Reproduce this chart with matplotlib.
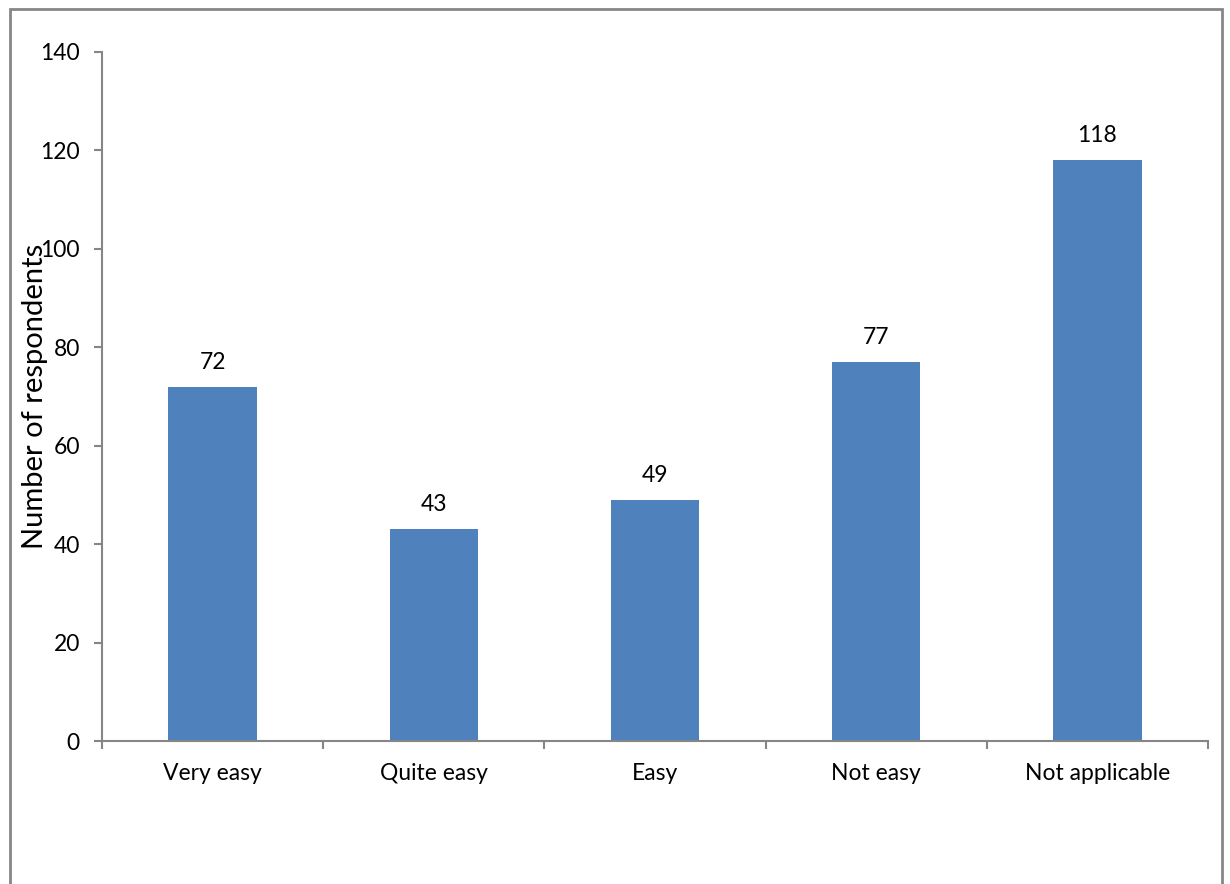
import matplotlib
matplotlib.use("Agg")
import matplotlib.pyplot as plt
from matplotlib.patches import Rectangle

categories = ["Very easy", "Quite easy", "Easy", "Not easy", "Not applicable"]
values = [72, 43, 49, 77, 118]
yticks = [0, 20, 40, 60, 80, 100, 120, 140]

plt.rcParams['font.family'] = ['Lato', 'DejaVu Sans']
W, H = 1230, 884
fig = plt.figure(figsize=(W/100, H/100), dpi=100)
fig.patches.append(Rectangle((10/W, -0.01), (1222-10)/W, 1.01 - 9/H, transform=fig.transFigure,
                             fill=False, edgecolor='#868686', linewidth=2))

ax = fig.add_axes([102/W, 1-741/H, (1208-102)/W, (741-52)/H])
x = list(range(len(categories)))
ax.bar(x, values, width=0.4, color='#4F81BD')
ax.set_xlim(-0.5, len(categories)-0.5)
ax.set_ylim(0, 140)
ax.set_yticks(yticks)
ax.set_yticklabels([str(t) for t in yticks], fontsize=16.5)
ax.set_xticks(x)
ax.set_xticklabels(categories, fontsize=16.5)
ax.tick_params(axis='x', length=0, pad=16)
ax.tick_params(axis='y', length=6, width=1.5, color='#868686', pad=10)
# boundary ticks on x axis
ax.set_xticks([i - 0.5 for i in range(len(categories)+1)], minor=True)
ax.tick_params(axis='x', which='minor', length=6, width=1.5, color='#868686')
for s in ['top', 'right']:
    ax.spines[s].set_visible(False)
for s in ['left', 'bottom']:
    ax.spines[s].set_color('#868686')
    ax.spines[s].set_linewidth(1.5)
for xi, v in zip(x, values):
    ax.annotate(str(v), (xi, v), xytext=(0, 10), textcoords='offset points',
                ha='center', va='bottom', fontsize=16.5)
fig.text(35/W, 1-396/H, "Number of respondents", rotation=90, ha='center', va='center', fontsize=21)
fig.savefig("out.png", dpi=100)
